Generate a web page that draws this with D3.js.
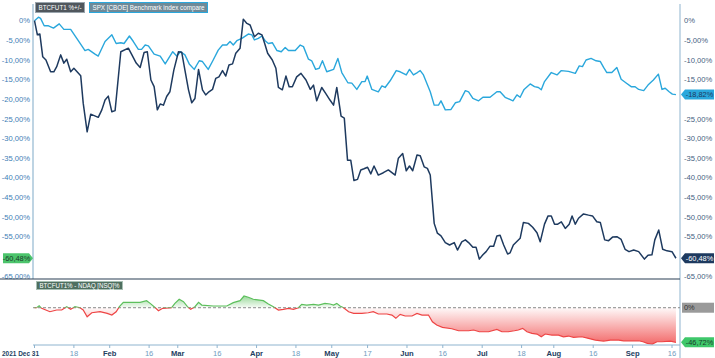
<!DOCTYPE html>
<html><head><meta charset="utf-8">
<script src="https://cdn.jsdelivr.net/npm/d3@7"></script>
<style>html,body{margin:0;padding:0;background:#fff;}svg{display:block;font-family:"Liberation Sans",Arial,sans-serif;}</style>
</head><body>
<svg id="c" width="715" height="358"></svg>
<script>
// ---------- DATA (x = trading-day index from 2021-12-31, y = % change) ----------
const btcDays = [0,0.8,1.5,2.3,3.2,4.5,5.4,6.2,7.3,8.2,9.0,10.1,11.0,12.9,13.6,14.7,15.7,17.8,18.8,19.7,20.6,21.6,22.5,24.1,26.2,27.2,28.4,29.5,30.6,31.5,32.5,33.4,34.3,35.1,36.0,36.9,37.8,38.9,40.2,41.1,42.0,43.0,43.9,44.8,45.8,46.9,47.8,48.7,49.7,50.6,51.5,52.5,53.4,54.3,55.3,56.2,57.4,58.3,59.3,60.2,61.4,62.5,63.5,64.4,65.1,66.4,67.4,68.1,69.2,70.2,71.1,72.0,73.2,74.4,75.8,77.0,77.9,78.8,80.2,81.3,82.5,83.5,84.4,85.6,86.5,87.4,88.3,89.2,90.2,91.1,92.0,93.0,93.9,94.8,96.0,97.4,98.8,100.7,101.6,102.8,103.8,104.7,105.6,106.8,107.7,108.8,109.7,110.5,111.6,112.5,113.5,114.7,115.9,117.2,118.1,119.3,120.3,121.2,122.4,123.3,124.2,125.2,126.1,127.2,128.2,129.1,130.0,131.0,132.1,132.8,133.7,135.6,136.5,137.9,139.1,140.3,141.2,142.4,143.4,144.3,145.2,146.1,147.1,148.2,149.3,150.1,151.0,151.9,153.3,154.7,155.8,157.0,158.0,159.2,160.3,161.4,162.6,163.8,164.9,166.0,167.3,168.7,170.3,171.3,172.4,173.2,174.3,175.4,176.6,178.0,179.1];
const btcValues = [0,-3.6,-3.4,-9.2,-10.0,-13.0,-13.0,-11.7,-8.7,-10.8,-9.8,-13.0,-12.1,-14.0,-21.0,-28.3,-23.8,-24.6,-22.7,-20.2,-19.2,-23.2,-22.9,-7.9,-7.0,-8.7,-10.8,-11.9,-8.1,-7.9,-15.1,-16.8,-22.7,-21.2,-21.5,-19.3,-18.1,-12.6,-7.9,-8.0,-12.6,-17.6,-20.9,-19.8,-12.4,-17.6,-18.9,-18.1,-17.5,-14.7,-14.3,-12.7,-14.1,-11.3,-11.0,-8.3,-7.0,0.4,-0.7,-1.1,-4.1,-3.2,-3.6,-6.2,-8.3,-10.0,-12.1,-17.0,-17.6,-14.1,-16.8,-16.8,-14.3,-13.4,-15.1,-17.5,-16.4,-20.4,-17.0,-18.5,-20.2,-21.5,-17.0,-24.3,-24.8,-35.5,-35.5,-40.7,-40.4,-38.0,-37.7,-37.3,-39.0,-37.0,-39.3,-38.7,-38.0,-39.3,-35.0,-33.8,-38.2,-37.0,-38.2,-34.2,-34.4,-37.2,-37.6,-39.3,-51.6,-54.1,-54.8,-56.5,-57.1,-56.5,-58.4,-56.3,-55.8,-56.5,-57.7,-57.7,-60.7,-59.6,-58.8,-57.4,-57.4,-54.8,-54.6,-57.1,-59.4,-59.1,-57.1,-55.4,-51.4,-51.6,-52.6,-54.0,-56.3,-51.8,-49.7,-49.7,-51.8,-51.8,-51.2,-52.9,-51.8,-49.7,-51.8,-50.3,-49.2,-49.5,-49.7,-51.2,-51.4,-55.8,-56.0,-55.1,-55.0,-55.7,-58.2,-58.8,-58.4,-58.8,-60.7,-59.7,-59.6,-55.8,-53.3,-58.2,-58.6,-58.8,-60.48];

const spxDays = [0,1.1,1.7,2.7,3.9,5.3,6.9,8.2,10.1,11.8,14.1,15.0,16.9,17.8,19.7,21.6,22.8,24.1,25.0,26.5,27.6,29.0,29.9,30.9,31.8,33.4,35.1,36.5,38.6,39.7,40.8,42.0,43.2,44.6,46.0,46.9,48.5,49.9,51.3,52.5,53.7,54.6,55.5,56.5,57.9,59.7,60.7,61.4,62.5,63.5,64.4,65.3,66.4,67.7,68.9,70.0,70.9,72.8,74.2,75.1,76.5,77.4,78.5,79.5,80.4,81.6,83.5,84.7,85.8,87.5,88.6,90.0,91.4,92.3,92.9,94.2,96.0,97.0,97.9,99.3,101.0,102.1,103.8,104.7,105.8,106.9,107.7,108.6,110.5,111.6,112.8,113.5,114.7,116.3,117.5,118.7,120.3,121.2,122.4,124.0,125.2,127.2,129.1,130.0,131.4,133.6,134.7,135.6,136.7,138.4,139.6,140.7,141.5,142.4,144.3,145.9,147.1,149.1,151.0,152.1,153.0,154.0,155.4,156.8,158.0,158.9,159.8,161.2,162.6,163.8,165.1,166.6,167.7,168.7,170.1,171.3,172.8,174.2,175.2,176.1,177.2,178.1,179.1];
const spxValues = [0,0.9,0.6,-1.3,-1.3,-1.9,-0.8,-2.2,-2.2,-4.5,-7.6,-7.3,-8.5,-9.0,-5.3,-3.6,-5.8,-5.6,-5.8,-3.9,-5.3,-7.3,-7.3,-6.2,-6.4,-8.5,-9.0,-11.0,-7.9,-9.0,-7.9,-8.7,-11.0,-12.4,-10.2,-10.4,-12.4,-10.0,-7.5,-6.2,-6.2,-5.3,-6.2,-5.1,-4.5,-3.4,-3.6,-4.9,-4.5,-3.9,-5.1,-5.8,-5.6,-7.6,-7.9,-6.8,-7.6,-7.6,-6.2,-6.6,-9.8,-10.2,-12.4,-12.1,-10.2,-13.0,-12.4,-9.6,-13.2,-15.8,-15.9,-17.5,-15.5,-15.5,-14.1,-17.5,-18.1,-16.6,-17.0,-15.3,-12.7,-13.0,-13.8,-12.4,-13.8,-13.2,-12.7,-13.8,-18.1,-21.5,-21.5,-20.4,-22.7,-22.6,-20.9,-20.6,-17.8,-18.1,-19.8,-20.4,-19.5,-19.5,-18.1,-18.1,-19.5,-20.4,-18.9,-19.5,-17.5,-16.1,-16.8,-17.0,-17.6,-15.5,-13.2,-13.8,-12.7,-12.9,-13.4,-11.5,-11.7,-10.0,-9.6,-10.2,-10.4,-11.9,-13.2,-13.2,-11.9,-14.9,-15.8,-16.8,-16.8,-17.5,-17.8,-16.4,-15.1,-13.6,-17.5,-17.2,-18.1,-18.7,-18.82];

const spreadDays = [0,0.6,1.3,2.0,4.3,6.2,7.6,9.0,10.1,11.3,12.7,13.6,14.7,16.0,18.3,20.3,21.6,22.8,23.7,24.8,27.2,29.5,31.3,32.3,33.4,34.6,35.8,38.3,39.2,40.4,41.6,42.7,43.6,44.8,45.8,46.7,49.9,53.7,55.5,57.4,58.5,59.7,61.1,63.9,65.3,66.7,68.1,69.5,70.9,72.3,73.7,74.6,76.0,77.9,79.3,81.1,82.5,83.5,84.4,85.3,86.3,87.7,89.1,90.4,91.4,93.2,94.6,96.0,98.4,99.8,100.9,102.1,103.5,105.4,106.8,108.2,110.0,111.1,112.3,113.9,116.5,118.4,121.2,122.6,124.2,126.8,129.1,130.5,132.3,134.0,135.1,136.3,137.5,138.9,140.3,141.5,142.6,144.5,146.3,147.7,149.1,150.5,152.8,154.7,156.6,158.9,160.8,163.1,164.5,166.8,168.7,169.9,171.1,172.5,173.8,175.2,177.6,179.1];
const spreadValues = [0,0,2.7,-0.8,-5.4,-3.1,-3.1,1.4,-2.2,1.4,0,-3.1,-12.2,-6.8,-5.4,-7.6,-9.9,-5.4,1.4,7.3,7.3,7.3,9.5,5.9,1.4,-4.1,-0.8,0,5.9,11.4,8.1,1.4,-2.2,1.4,7.3,3.6,2.3,2.3,6.8,9.5,15.8,14.1,11.4,9.5,5.0,1.4,-3.1,-2.2,-0.8,-2.2,0,4.5,3.6,4.5,3.6,5.9,5.0,3.6,5.9,2.3,0,-5.4,-7.6,-7.6,-7.6,-6.8,-5.4,-8.5,-8.5,-9.9,-14.3,-8.9,-11.2,-11.2,-7.6,-9.9,-9.9,-18.9,-23.4,-26.5,-28.4,-31.1,-31.1,-30.1,-32.4,-32.4,-29.2,-32.4,-32.4,-31.1,-30.1,-27.8,-32.4,-34.6,-35.5,-39.2,-35.5,-36.9,-36.9,-39.2,-38.2,-40.0,-39.2,-41.4,-43.6,-45.0,-43.6,-43.6,-44.6,-44.6,-44.6,-45.9,-48.1,-49.1,-45.9,-45.9,-45.0,-46.72];

const xTickDays   = [0, 11, 21, 32, 40, 51, 62, 73, 83, 93, 104, 114, 125, 136, 145, 156, 167, 178];
const xTickLabels = ["2021 Dec 31","18","Feb","16","Mar","16","Apr","18","May","17","Jun","16","Jul","18","Aug","16","Sep","16"];
const yTicks = [0,-5,-10,-15,-20,-25,-30,-35,-40,-45,-50,-55,-60,-65];
const legendLabels = ["BTCFUT1 %+/-", "SPX [CBOE] Benchmark index compare"];
const spreadTitle = "BTCFUT1% - NDAQ [NSQ]%";

// ---------- LAYOUT ----------
const svg = d3.select("#c");
const L = 33, R = 680;
const x = d3.scaleLinear().domain([0,178]).range([34.5,672]);
const y = d3.scaleLinear().domain([0,-65]).range([20.7,276]);
const y2 = d3.scaleLinear().domain([-50.3,37.4]).range([345,280]);
const fmt = v => v === 0 ? "0%" : d3.format(".2f")(v).replace(".",",").replace("\u2212","-") + "%";

const NAVY = "#1e3a5f", SKY = "#2aa7dc";
const btcLast = btcValues[btcValues.length-1], spxLast = spxValues[spxValues.length-1], spLast = spreadValues[spreadValues.length-1];

// axes lines
svg.append("line").attr("x1",L).attr("x2",L).attr("y1",4).attr("y2",279).attr("stroke","#a9c6da").attr("stroke-width",1.5);
svg.append("line").attr("x1",R).attr("x2",R).attr("y1",4).attr("y2",358).attr("stroke","#8fb4cf").attr("stroke-width",1);

// y axis labels (left & right), skipping those hidden under value tags
const yl = svg.append("g");
yTicks.forEach(t => {
  const yy = y(t);
  if (Math.abs(yy - y(btcLast)) > 9)
    yl.append("text").attr("x",30).attr("y",yy).attr("dy","0.35em").attr("text-anchor","end")
      .attr("font-size",7.6).attr("fill","#3d7eb5").text(fmt(t));
  if (Math.abs(yy - y(btcLast)) > 9 && Math.abs(yy - y(spxLast)) > 9)
    yl.append("text").attr("x",684).attr("y",yy).attr("dy","0.35em").attr("text-anchor","start")
      .attr("font-size",7.6).attr("fill","#3f5e80").text(fmt(t));
});
svg.append("line").attr("x1",0).attr("x2",R).attr("y1",279).attr("y2",279).attr("stroke","#2b3e55").attr("stroke-width",1.2);

// lines
const lineGen = (days) => d3.line().x((d,i)=>x(days[i])).y(d=>y(d));
svg.append("path").datum(spxValues).attr("d", lineGen(spxDays)).attr("fill","none").attr("stroke",SKY).attr("stroke-width",1.4).attr("stroke-linejoin","round");
svg.append("path").datum(btcValues).attr("d", lineGen(btcDays)).attr("fill","none").attr("stroke",NAVY).attr("stroke-width",1.5).attr("stroke-linejoin","round");

// legend boxes
function box(g, x0, y0, w, h, fill, stroke, text, tcol, fs) {
  g.append("rect").attr("x",x0).attr("y",y0).attr("width",w).attr("height",h).attr("fill",fill).attr("stroke",stroke).attr("stroke-width",1);
  g.append("text").attr("x",x0+3).attr("y",y0+h/2).attr("dy","0.35em").attr("text-anchor","start")
    .attr("textLength", w-6).attr("lengthAdjust","spacingAndGlyphs")
    .attr("font-size",fs).attr("fill",tcol).text(text);
}
const lg = svg.append("g");
box(lg, 35.5, 2.5, 49, 10, "#50575d", "#9aa5ad", legendLabels[0], "#ffffff", 7.2);
box(lg, 89.5, 2.5, 118, 10, "#6f8a98", SKY, legendLabels[1], "#ffffff", 7.2);

// value tags
function tagLeft(v, fill, tcol) { // arrow pointing right, on left axis
  const yy = y(v);
  svg.append("path").attr("d",`M3,${yy-5}H29L33,${yy}L29,${yy+5}H3Z`).attr("fill",fill);
  svg.append("text").attr("x",16.5).attr("y",yy).attr("dy","0.35em").attr("text-anchor","middle").attr("font-size",7.4).attr("fill",tcol).text(fmt(v));
}
function tagRight(yy, label, fill, tcol) { // arrow pointing left, on right axis
  svg.append("path").attr("d",`M681,${yy}L685,${yy-5}H714V${yy+5}H685Z`).attr("fill",fill);
  svg.append("text").attr("x",699.5).attr("y",yy).attr("dy","0.35em").attr("text-anchor","middle").attr("font-size",7.4).attr("fill",tcol).text(label);
}
tagLeft(btcLast, "#4cc46c", "#1a3a2a");
tagRight(y(spxLast), fmt(spxLast), SKY, NAVY);
tagRight(y(btcLast), fmt(btcLast), NAVY, "#ffffff");

// ---------- BOTTOM PANEL ----------
const defs = svg.append("defs");
const gG = defs.append("linearGradient").attr("id","gGreen").attr("gradientUnits","userSpaceOnUse").attr("x1",0).attr("x2",0).attr("y1",y2(16)).attr("y2",y2(0));
gG.append("stop").attr("offset",0).attr("stop-color","#6cc76c").attr("stop-opacity",0.7);
gG.append("stop").attr("offset",1).attr("stop-color","#6cc76c").attr("stop-opacity",0.06);
const gR = defs.append("linearGradient").attr("id","gRed").attr("gradientUnits","userSpaceOnUse").attr("x1",0).attr("x2",0).attr("y1",y2(0)).attr("y2",y2(-48));
gR.append("stop").attr("offset",0).attr("stop-color","#f04848").attr("stop-opacity",0.03);
gR.append("stop").attr("offset",1).attr("stop-color","#f04848").attr("stop-opacity",0.8);
defs.append("clipPath").attr("id","cUp").append("rect").attr("x",L).attr("y",280).attr("width",R-L).attr("height",y2(0)-280);
defs.append("clipPath").attr("id","cDn").append("rect").attr("x",L).attr("y",y2(0)).attr("width",R-L).attr("height",358-y2(0));

const area2 = d3.area().x((d,i)=>x(spreadDays[i])).y0(y2(0)).y1(d=>y2(d));
const line2 = d3.line().x((d,i)=>x(spreadDays[i])).y(d=>y2(d));
svg.append("path").datum(spreadValues).attr("d",area2).attr("fill","url(#gGreen)").attr("clip-path","url(#cUp)");
svg.append("path").datum(spreadValues).attr("d",area2).attr("fill","url(#gRed)").attr("clip-path","url(#cDn)");
svg.append("line").attr("x1",L).attr("x2",R).attr("y1",y2(0)).attr("y2",y2(0)).attr("stroke","#888").attr("stroke-dasharray","3,2").attr("stroke-width",1);
svg.append("path").datum(spreadValues).attr("d",line2).attr("fill","none").attr("stroke","#5cbf5c").attr("stroke-width",1.2).attr("clip-path","url(#cUp)");
svg.append("path").datum(spreadValues).attr("d",line2).attr("fill","none").attr("stroke","#ee4444").attr("stroke-width",1.2).attr("clip-path","url(#cDn)");

box(svg, 36.5, 281.5, 86, 8, "#4f6f60", "#a8c0b4", spreadTitle, "#ffffff", 6.6);

// right tags bottom panel
svg.append("rect").attr("x",682).attr("y",y2(0)-5).attr("width",32).attr("height",10).attr("fill","#9a9a9a");
svg.append("text").attr("x",684).attr("y",y2(0)).attr("dy","0.35em").attr("font-size",7.4).attr("fill","#333").text("0%");
tagRight(y2(spLast), fmt(spLast), "#3ec76a", "#1a3a2a");

// x axis
const xa = svg.append("g");
xa.append("line").attr("x1",L).attr("x2",R).attr("y1",345).attr("y2",345).attr("stroke","#8fb4cf").attr("stroke-width",1);
xTickDays.forEach((d,i) => {
  const xx = x(d);
  xa.append("line").attr("x1",xx).attr("x2",xx).attr("y1",345).attr("y2",348).attr("stroke","#8fb4cf");
  const lab = xTickLabels[i];
  const isMonth = /[A-Za-z]/.test(lab);
  const t = xa.append("text").attr("y",355.5)
    .attr("font-size",7.6).attr("font-weight", isMonth ? "bold" : "normal")
    .attr("fill", isMonth ? "#23405f" : "#6f9cc0").text(lab);
  if (i === 0) t.attr("x",2).attr("text-anchor","start").attr("textLength",37).attr("lengthAdjust","spacingAndGlyphs");
  else t.attr("x",xx).attr("text-anchor","middle");
});
</script>
</body></html>
